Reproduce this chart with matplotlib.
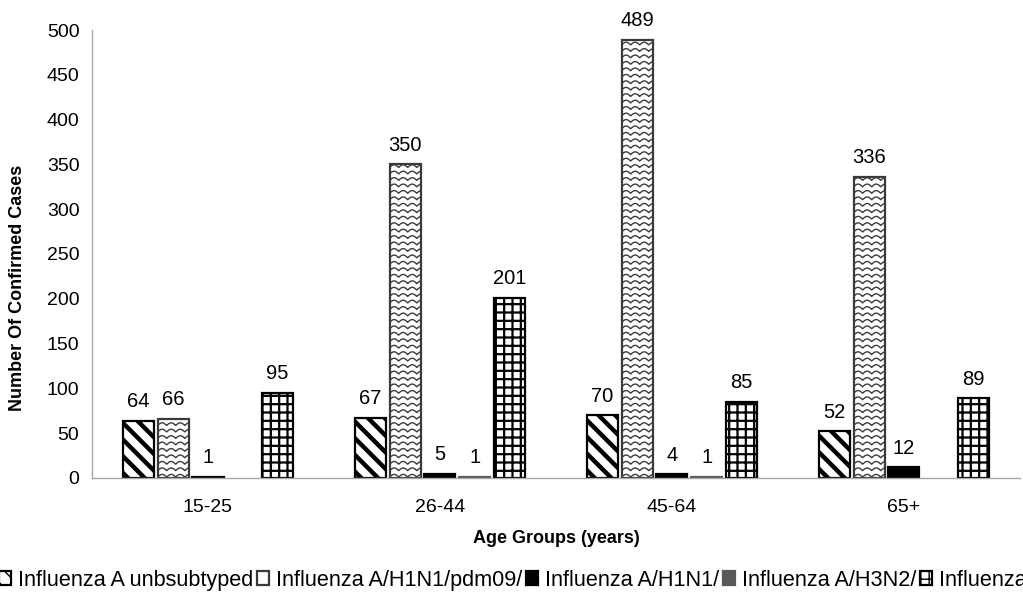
import numpy as np
import matplotlib as mpl
import matplotlib.pyplot as plt
from matplotlib.collections import LineCollection

plt.rcParams['font.family'] = ['Liberation Sans', 'DejaVu Sans']

# case counts per age group
age_groups = ['15-25', '26-44', '45-64', '65+']
series_names = ['Influenza A unbsubtyped', 'Influenza A/H1N1/pdm09/',
                'Influenza A/H1N1/', 'Influenza A/H3N2/', 'Influenza B']
unsubtyped = [64, 67, 70, 52]
h1n1_pdm09 = [66, 350, 489, 336]
h1n1 = [1, 5, 4, 12]
h3n2 = [np.nan, 1, 1, np.nan]
flu_b = [95, 201, 85, 89]
series = [unsubtyped, h1n1_pdm09, h1n1, h3n2, flu_b]

# facecolor, edgecolor, hatch, hatch linewidth
styles = [
    ('white', 'black', '\\\\', 3.2),
    ('none', '#3a3a3a', None, 1.0),
    ('black', 'black', None, 1.0),
    ('#5a5a5a', '#5a5a5a', None, 1.0),
    ('white', 'black', '++', 1.6),
]


def add_waves(ax, rect, period=0.039, spacing=7.2, amp=3.0, color='#3c3c3c'):
    # wavy fill drawn under the bar outline, clipped to the bar
    x0, w, h = rect.get_x(), rect.get_width(), rect.get_height()
    xs = np.linspace(x0, x0 + w, 80)
    segs = []
    for yb in np.arange(1.0, h + spacing, spacing):
        ys = yb + amp * np.abs(np.sin(np.pi * (xs - x0) / period))
        segs.append(np.column_stack([xs, ys]))
    lc = LineCollection(segs, colors=color, linewidths=1.0, zorder=0.9)
    ax.add_collection(lc)
    lc.set_clip_path(rect)


fig = plt.figure(figsize=(10.23, 5.92), dpi=100)
ax = fig.add_axes([0.0899, 0.1926, 0.9071, 0.7567])

x = np.arange(len(age_groups))
pitch, width = 0.15, 0.134
handles = []
for j, (vals, name, st) in enumerate(zip(series, series_names, styles)):
    fc, ec, hatch, hlw = st
    with mpl.rc_context({'hatch.linewidth': hlw, 'hatch.color': 'black'}):
        bars = ax.bar(x + (j - 2) * pitch, vals, width, facecolor=fc,
                      edgecolor=ec, hatch=hatch, linewidth=1.6, label=name)
    handles.append(bars)
    for rect, v in zip(bars, vals):
        if np.isnan(v):
            continue
        if j == 1:
            add_waves(ax, rect)
        ax.annotate(f'{v:g}', (rect.get_x() + rect.get_width() / 2, v),
                    xytext=(0, 7), textcoords='offset points',
                    ha='center', va='bottom', fontsize=14.5)

ax.set_xlim(-0.5, len(age_groups) - 0.5)
ax.set_ylim(0, 500)
ax.set_yticks(np.arange(0, 501, 50))
ax.set_xticks(x)
ax.set_xticklabels(age_groups)
ax.tick_params(length=0, labelsize=14)
ax.tick_params(axis='x', pad=15)
ax.tick_params(axis='y', pad=9)
for side in ['top', 'right']:
    ax.spines[side].set_visible(False)
for side in ['left', 'bottom']:
    ax.spines[side].set_color('#a8a8a8')
    ax.spines[side].set_linewidth(1.0)

ax.set_xlabel('Age Groups (years)', fontsize=13, fontweight='bold', labelpad=10)
ax.set_ylabel('Number Of Confirmed Cases', fontsize=13, fontweight='bold')
ax.yaxis.set_label_coords(-0.0711, 0.424)

fig.legend(handles=handles, labels=series_names, ncol=5, loc='center left',
           bbox_to_anchor=(-0.001, 0.02), frameon=False, fontsize=15.6,
           handlelength=0.55, handleheight=0.55, handletextpad=0.35,
           columnspacing=0.15, borderpad=0, borderaxespad=0)

fig.savefig('out.png', dpi=100)
